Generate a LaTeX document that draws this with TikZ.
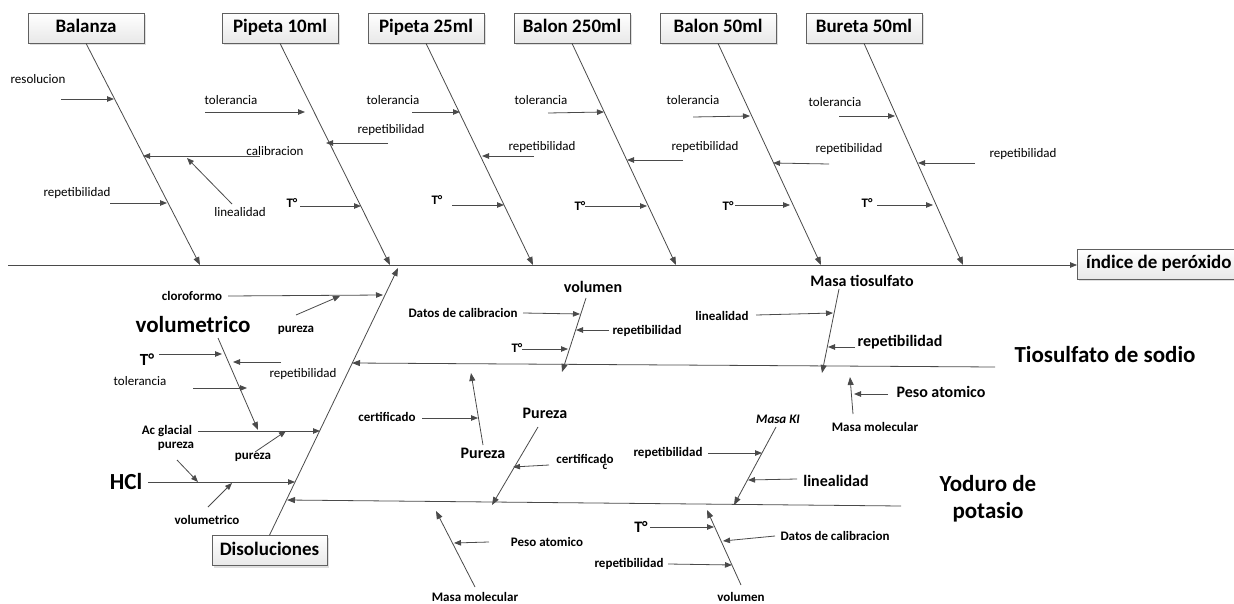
\documentclass[tikz,border=0pt]{standalone}
\usepackage{fontspec}
\setmainfont{Carlito}
\usetikzlibrary{arrows.meta,shadows}

\definecolor{linec}{HTML}{4A4A4A}
\newcommand{\fs}[1]{\fontsize{#1}{#1}\selectfont}

\tikzset{
  bone/.style={draw=linec, line width=0.8pt, -{Triangle[length=8pt,width=6pt]}},
  twig/.style={draw=linec, line width=0.8pt, -{Triangle[length=7pt,width=5.5pt]}},
  causebox/.style={draw=gray!75!black, line width=0.7pt, top color=white, bottom color=gray!18,
    minimum height=30pt, inner sep=0pt, text height=13pt, text depth=4pt, font=\fs{19}\bfseries,
    drop shadow={opacity=0.25, shadow xshift=2pt, shadow yshift=-2pt}},
  lab/.style={inner sep=0pt, font=\fs{13}},
  blab/.style={inner sep=0pt, font=\fs{13}\bfseries},
  mlab/.style={inner sep=0pt, font=\fs{16}\bfseries},
  hlab/.style={inner sep=0pt, font=\fs{23}\bfseries, align=center}
}

\begin{document}
\begin{tikzpicture}[x=1pt,y=-1pt]
\useasboundingbox (0,0) rectangle (1234,604);

% head and spine
\node[causebox, minimum width=163pt, inner xsep=6pt, anchor=north west] (eff) at (1077,249) {índice de peróxido\hspace{8pt}};
\coordinate (tail) at (8,265);
\draw[twig] (tail) -- (eff.west |- tail);

% top causes
\foreach \n/\t/\x/\e in {bal/Balanza/86/200, pipA/Pipeta 10ml/280/390, pipB/Pipeta 25ml/426/533,
    balA/Balon 250ml/572/676, balB/Balon 50ml/718/821, bur/Bureta 50ml/864/963}{
  \node[causebox, minimum width=116pt] (\n) at (\x,28) {\t};
  \coordinate (\n E) at (\e,265);
  \draw[bone] (\n.south) -- (\n E);
}

% small causes, top
\foreach \n/\xa/\ya/\xb/\yb in {t1/61/99/114/99, t2/260/156/143/156, t3/232/204/187/158, t4/110/203/167/203,
    t5/205/112/305/112, t6/388/143/326/143, t7/300/206/361/206,
    t8/412/112/460/112, t9/534/156/482/156, t10/452/205/504/205,
    t11/548/113/604/112, t12/683/160/627/160, t13/585/206/647/206,
    t14/693/117/750/116, t15/829/164/773/163, t16/735/205/790/205,
    t17/839/116/895/116, t18/975/163/918/163, t19/877/205/933/205}{
  \coordinate (\n a) at (\xa,\ya); \coordinate (\n b) at (\xb,\yb);
  \draw[twig] (\n a) -- (\n b);
}
\foreach \n/\x/\y/\t in {l1/38/79/resolucion, l2/275/151/calibracion, l3/240/212/linealidad, l4/77/193/repetibilidad,
    l5/231/100/tolerancia, l6/391/130/repetibilidad, l8/393/100/tolerancia, l9/542/147/repetibilidad,
    l11/541/100/tolerancia, l12/705/147/repetibilidad, l14/693/100/tolerancia, l15/849/149/repetibilidad,
    l17/835/102/tolerancia, l18/1023/154/repetibilidad}{
  \node[lab] (\n) at (\x,\y) {\t};
}
\foreach \n/\x/\y in {l7/292/203, l10/437/200, l13/580/206, l16/728/206, l19/867/203}{
  \node[blab] (\n) at (\x,\y) {T°};
}

% bottom causes
\node[causebox, minimum width=115pt] (dis) at (269.5,550.5) {Disoluciones};
\coordinate (disE) at (398,268);
\draw[bone] (dis.north) -- (disE);
\coordinate (tioA) at (995,367); \coordinate (tioB) at (352,363);
\draw[bone] (tioA) -- (tioB);
\coordinate (yodA) at (901,506); \coordinate (yodB) at (287,500);
\draw[bone] (yodA) -- (yodB);
\node[hlab] (tio) at (1105,355) {Tiosulfato de sodio};
\node[hlab] (yod) at (988,499) {Yoduro de\\[4pt]potasio};

% sub bones, bottom
\foreach \n/\xa/\ya/\xb/\yb in {b1/218/338/258/430, b2/586/298/562/372, b3/483/445/471/373, b4/538/427/492/505,
    b5/475/587/436/511, b6/776/427/734/505, b7/741/585/707/510, b8/839/289/822/373, b9/853/414/850/377}{
  \coordinate (\n a) at (\xa,\ya); \coordinate (\n b) at (\xb,\yb);
  \draw[bone] (\n a) -- (\n b);
}

% small causes, bottom
\foreach \n/\xa/\ya/\xb/\yb in {d1/228/296/383/295, d2/296/315/340/296, d3/159/354/222/354, d4/281/362/233/362,
    d5/193/388/247/388, d6/198/431/320/431, d7/255/452/286/431, d8/177/460/198/482,
    d9/148/482/295/482, d10/208/507/232/483,
    d11/523/313/580/314, d12/609/330/576/330, d13/522/349/568/349, d14/422/418/478/418,
    d15/549/465/513/467, d16/489/542/454/543, d17/708/453/762/453, d18/797/479/748/480,
    d19/650/527/714/527, d20/775/536/723/541, d21/668/564/732/565, d22/756/315/833/313,
    d23/855/347/828/347, d24/888/394/854/394}{
  \coordinate (\n a) at (\xa,\ya); \coordinate (\n b) at (\xb,\yb);
  \draw[twig] (\n a) -- (\n b);
}
\foreach \n/\x/\y/\t in {m1/192/296/cloroformo, m2/296/330/pureza, m6/167/431/Ac glacial, m7/253/457/pureza,
    m8/176/446/pureza, m10/207/520/volumetrico, m11/463/313/Datos de calibracion, m12/647/331/repetibilidad,
    m13/517/348/T°, m14/387/417/certificado, m15/585/459/certificado, m16/547/542/Peso atomico,
    m17/668/453/repetibilidad, m20/835/536/Datos de calibracion, m21/629/564/repetibilidad,
    m22/722/316/linealidad, n5/475/597/Masa molecular, n7/741/597/volumen, n9/875/427/Masa molecular}{
  \node[blab] (\n) at (\x,\y) {\t};
}
\foreach \n/\x/\y/\t in {n2/593/287/volumen, n3/483/453/Pureza, n4/545/413/Pureza, m18/836/481/linealidad,
    m19/641/527/T°, n8/862/281/Masa tiosulfato, m23/900/342/repetibilidad, m24/941/392/Peso atomico}{
  \node[mlab] (\n) at (\x,\y) {\t};
}
\node[lab] (m4) at (303,374) {repetibilidad};
\node[lab] (m5) at (140,381) {tolerancia};
\node[blab, font=\fs{11}\bfseries] (cc) at (605,467) {c};
\node[blab, font=\fs{13}\bfseries\itshape] (n6) at (778,419) {Masa KI};
\node[hlab] (n1) at (193,325) {volumetrico};
\node[hlab] (m9) at (126,482) {HCl};
\node[mlab, font=\fs{17}\bfseries] (m3) at (147,360) {T°};
\end{tikzpicture}
\end{document}
